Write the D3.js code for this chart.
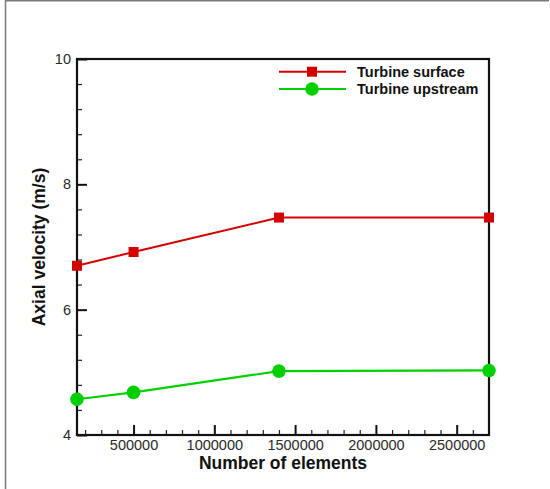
<!DOCTYPE html>
<html>
<head>
<meta charset="utf-8">
<script src="https://cdn.jsdelivr.net/npm/d3@7"></script>
<style>
  html, body { margin: 0; padding: 0; background: #fff; }
  svg { display: block; font-family: "Liberation Sans", Arial, sans-serif; }
</style>
</head>
<body>
<svg id="chart" width="550" height="489"></svg>
<script>
// Mesh-independence study: axial velocity vs. number of mesh elements
const elements = [150000, 500000, 1400000, 2700000];
const surfaceVelocity = [6.70, 6.92, 7.47, 7.47];
const upstreamVelocity = [4.57, 4.68, 5.02, 5.03];
const seriesNames = ["Turbine surface", "Turbine upstream"];
const xMajorTicks = [500000, 1000000, 1500000, 2000000, 2500000];
const yMajorTicks = [4, 6, 8, 10];

const svg = d3.select("#chart");
const W = 550, H = 489;
const plot = { left: 77, right: 489, top: 59, bottom: 435 };

// Page frame
svg.append("line").attr("x1", 5.5).attr("x2", 5.5).attr("y1", 0).attr("y2", H)
  .attr("stroke", "#7a7a7a").attr("stroke-width", 1.5);
svg.append("line").attr("x1", 5).attr("x2", 549).attr("y1", 0.75).attr("y2", 0.75)
  .attr("stroke", "#7a7a7a").attr("stroke-width", 1.5);

const x = d3.scaleLinear().domain([150000, 2700000]).range([plot.left, plot.right]);
const y = d3.scaleLinear().domain([4, 10]).range([plot.bottom, plot.top]);

const xMinor = d3.range(200000, 2700000, 100000).filter(v => v % 500000 !== 0);
const yMinor = d3.range(4.4, 10, 0.4).filter(v => Math.abs(v / 2 - Math.round(v / 2)) > 1e-6);

const tickFont = "Liberation Sans, Arial, sans-serif";

// X axis: minor ticks, then major ticks with labels (ticks point inward)
svg.append("g").attr("transform", `translate(0,${plot.bottom})`)
  .call(d3.axisBottom(x).tickValues(xMinor).tickSize(-5).tickFormat(""))
  .call(g => g.select(".domain").remove())
  .call(g => g.selectAll("line").attr("stroke", "#222").attr("stroke-width", 1.2));
svg.append("g").attr("transform", `translate(0,${plot.bottom})`)
  .call(d3.axisBottom(x).tickValues(xMajorTicks).tickSize(-10).tickPadding(5).tickFormat(d3.format("d")))
  .call(g => g.select(".domain").remove())
  .call(g => g.selectAll("line").attr("stroke", "#111").attr("stroke-width", 2))
  .call(g => g.selectAll("text").attr("font-size", 14.5).attr("fill", "#2a2a2a")
    .attr("font-family", tickFont));

// Y axis
svg.append("g").attr("transform", `translate(${plot.left},0)`)
  .call(d3.axisLeft(y).tickValues(yMinor).tickSize(-5).tickFormat(""))
  .call(g => g.select(".domain").remove())
  .call(g => g.selectAll("line").attr("stroke", "#222").attr("stroke-width", 1.2));
svg.append("g").attr("transform", `translate(${plot.left},0)`)
  .call(d3.axisLeft(y).tickValues(yMajorTicks).tickSize(-10).tickPadding(6).tickFormat(d3.format("d")))
  .call(g => g.select(".domain").remove())
  .call(g => g.selectAll("line").attr("stroke", "#111").attr("stroke-width", 2))
  .call(g => g.selectAll("text").attr("font-size", 14.5).attr("fill", "#2a2a2a")
    .attr("font-family", tickFont));

// Plot frame
svg.append("rect")
  .attr("x", plot.left).attr("y", plot.top)
  .attr("width", plot.right - plot.left).attr("height", plot.bottom - plot.top)
  .attr("fill", "none").attr("stroke", "#111").attr("stroke-width", 2.2);

// Axis titles
svg.append("text").attr("x", 283).attr("y", 469).attr("text-anchor", "middle")
  .attr("font-size", 17.5).attr("font-weight", "bold").attr("fill", "#111")
  .text("Number of elements");
svg.append("text").attr("transform", `translate(45,${(plot.top + plot.bottom) / 2}) rotate(-90)`)
  .attr("text-anchor", "middle")
  .attr("font-size", 17.5).attr("font-weight", "bold").attr("fill", "#111")
  .text("Axial velocity (m/s)");

const red = "#d40000", green = "#00d000";
const line = d3.line().x(d => x(d[0])).y(d => y(d[1]));
const surfacePts = elements.map((e, i) => [e, surfaceVelocity[i]]);
const upstreamPts = elements.map((e, i) => [e, upstreamVelocity[i]]);

svg.append("path").datum(surfacePts).attr("d", line)
  .attr("fill", "none").attr("stroke", red).attr("stroke-width", 2);
svg.append("path").datum(upstreamPts).attr("d", line)
  .attr("fill", "none").attr("stroke", green).attr("stroke-width", 2.2);

const sq = 10, rad = 6.8;
svg.selectAll("rect.surface").data(surfacePts).enter().append("rect")
  .attr("class", "surface")
  .attr("x", d => x(d[0]) - sq / 2).attr("y", d => y(d[1]) - sq / 2)
  .attr("width", sq).attr("height", sq).attr("fill", red);
svg.selectAll("circle.upstream").data(upstreamPts).enter().append("circle")
  .attr("class", "upstream")
  .attr("cx", d => x(d[0])).attr("cy", d => y(d[1])).attr("r", rad).attr("fill", green);

// Legend
const legend = svg.append("g");
const legY = [71.7, 89];
[red, green].forEach((c, i) => {
  legend.append("line").attr("x1", 279).attr("x2", 346).attr("y1", legY[i]).attr("y2", legY[i])
    .attr("stroke", c).attr("stroke-width", 2);
  if (i === 0) {
    legend.append("rect").attr("x", 312 - sq / 2).attr("y", legY[i] - sq / 2)
      .attr("width", sq).attr("height", sq).attr("fill", c);
  } else {
    legend.append("circle").attr("cx", 312).attr("cy", legY[i]).attr("r", rad).attr("fill", c);
  }
  legend.append("text").attr("x", 357).attr("y", legY[i] + 5)
    .attr("font-size", 14.5).attr("font-weight", "bold").attr("fill", "#111")
    .text(seriesNames[i]);
});
</script>
</body>
</html>
